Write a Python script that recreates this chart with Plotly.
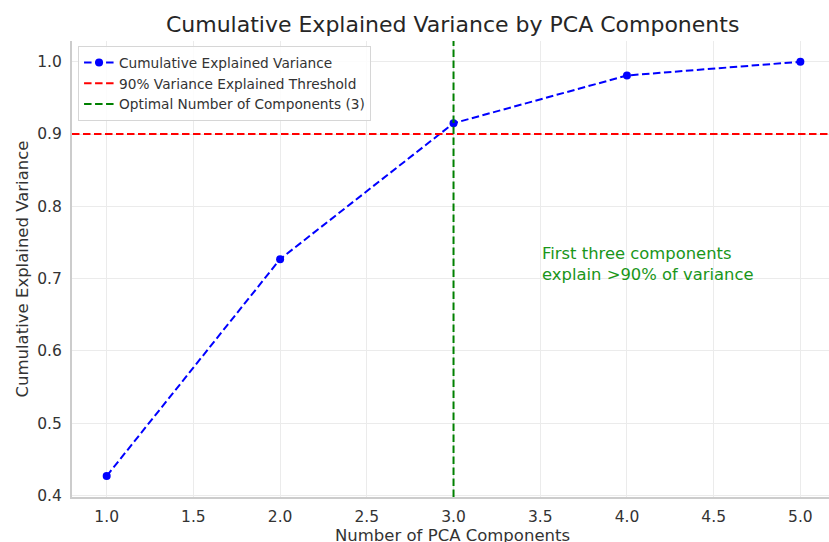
import plotly.graph_objects as go

# cumulative explained variance
components = [1, 2, 3, 4, 5]
cum_variance = [0.427, 0.727, 0.915, 0.981, 1.0]
threshold = 0.9
optimal_n = 3

x_ticks = [1.0, 1.5, 2.0, 2.5, 3.0, 3.5, 4.0, 4.5, 5.0]
y_ticks = [0.4, 0.5, 0.6, 0.7, 0.8, 0.9, 1.0]

font = "DejaVu Sans"
dash = "7.5px,3.5px"

fig = go.Figure()

fig.add_trace(go.Scatter(
    x=components, y=cum_variance, mode="lines+markers",
    name="Cumulative Explained Variance",
    line=dict(color="blue", width=2, dash=dash),
    marker=dict(color="blue", size=8),
))

fig.add_hline(y=threshold, line=dict(color="red", width=2, dash=dash),
              showlegend=True, name="90% Variance Explained Threshold")
fig.add_vline(x=optimal_n, line=dict(color="green", width=2, dash=dash),
              showlegend=True, name=f"Optimal Number of Components ({optimal_n})")

fig.add_annotation(
    x=3.5, y=0.69, xanchor="left", yanchor="bottom", showarrow=False,
    text="First three components<br>explain >90% of variance",
    align="left", font=dict(family=font, size=16.4, color="#1a961a"),
)

# x-axis title placed by hand so it sits as low as in the original
fig.add_annotation(
    x=0.503, y=-0.085, xref="paper", yref="paper", xanchor="center", yanchor="middle",
    showarrow=False, text="Number of PCA Components",
    font=dict(family=font, size=16.5, color="#333333"),
)

fig.update_layout(
    width=829, height=542,
    margin=dict(l=72, r=0, t=41, b=45),
    plot_bgcolor="white", paper_bgcolor="white",
    font=dict(family=font, size=15.5, color="#333333"),
    title=dict(text="Cumulative Explained Variance by PCA Components",
               x=0.546, xanchor="center", y=0.956, yanchor="middle",
               font=dict(family=font, size=22, color="#262626")),
    legend=dict(x=0.008, y=0.989, xanchor="left", yanchor="top",
                bgcolor="rgba(255,255,255,0.85)", bordercolor="#d6d6d6",
                borderwidth=1, font=dict(family=font, size=13.7, color="#333333"),
                tracegroupgap=0, itemwidth=30),
    showlegend=True,
)

fig.update_xaxes(
    range=[0.8, 5.165], tickvals=x_ticks, ticktext=[f"{v:.1f}" for v in x_ticks],
    showgrid=True, gridcolor="#ebebeb", gridwidth=1, zeroline=False,
    showline=True, linecolor="#cccccc", linewidth=2,
    ticks="outside", ticklen=4, tickcolor="rgba(0,0,0,0)", automargin=False,
)
fig.update_yaxes(
    range=[0.398, 1.0287], tickvals=y_ticks, ticktext=[f"{v:.1f}" for v in y_ticks],
    showgrid=True, gridcolor="#ebebeb", gridwidth=1, zeroline=False,
    showline=True, linecolor="#cccccc", linewidth=2,
    ticks="outside", ticklen=5, tickcolor="rgba(0,0,0,0)", automargin=False,
    title=dict(text="Cumulative Explained Variance", standoff=4, font=dict(size=16.5)),
)

# the page's default body margin would shift the figure by 8px
fig.write_html("out.html", config={"displayModeBar": False},
               post_script="document.body.style.margin='0px';")
